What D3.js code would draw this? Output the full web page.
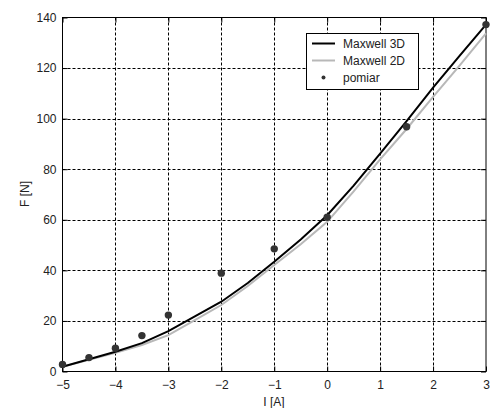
<!DOCTYPE html>
<html><head><meta charset="utf-8">
<script src="https://cdn.jsdelivr.net/npm/d3@7"></script>
<style>body{margin:0;background:#fff}svg{display:block}text{font-family:"Liberation Sans",Arial,sans-serif}</style>
</head><body>
<svg id="c" width="490" height="408"></svg>
<script>
const xTicks = [-5,-4,-3,-2,-1,0,1,2,3];
const yTicks = [0,20,40,60,80,100,120,140];
const lineX = [-5,-4,-3.5,-3,-2.5,-2,-1.5,-1,-0.5,0,0.5,1,1.5,2,2.5,3];
const maxwell3D = [1.9,7.8,11.2,16,21.8,27.6,35,43.4,52.2,61.8,73.5,86.2,99,112.3,124.8,137.2];
const maxwell2D = [1.9,7.4,10.5,14.4,20.3,26.3,33.8,42.1,50.3,59.2,71.2,83.9,95.9,108.6,121,133.7];
const pomiarX = [-5,-4.5,-4,-3.5,-3,-2,-1,0,1.5,3];
const pomiarY = [2.8,5.5,9.2,14.2,22.3,38.9,48.5,61,96.8,137.2];

const svg = d3.select("#c");
const L=62.5,R=486,T=17.5,B=371.5;
const x = d3.scaleLinear().domain([-5,3]).range([L,R]);
const y = d3.scaleLinear().domain([0,140]).range([B,T]);

// grid
const g = svg.append("g");
g.selectAll(".vx").data(xTicks.slice(1,-1)).enter().append("line")
 .attr("x1",d=>Math.round(x(d))+0.5).attr("x2",d=>Math.round(x(d))+0.5)
 .attr("y1",T).attr("y2",B).attr("stroke","#000").attr("stroke-width",1).attr("stroke-dasharray","3,2");
g.selectAll(".hy").data(yTicks.slice(1,-1)).enter().append("line")
 .attr("y1",d=>Math.round(y(d))+0.5).attr("y2",d=>Math.round(y(d))+0.5)
 .attr("x1",L).attr("x2",R).attr("stroke","#000").attr("stroke-width",1).attr("stroke-dasharray","3,2");

// axes via d3
const xa = svg.append("g").attr("transform",`translate(0,${B})`)
 .call(d3.axisBottom(x).tickValues(xTicks).tickSize(-5).tickPadding(9).tickFormat(d3.format("d")));
const ya = svg.append("g").attr("transform",`translate(${L},0)`)
 .call(d3.axisLeft(y).tickValues(yTicks).tickSize(-5).tickPadding(6).tickFormat(d3.format("d")));
[xa,ya].forEach(a=>{a.select(".domain").remove();
 a.selectAll("text").attr("font-size",12).attr("fill","#222").style("font-family","'Liberation Sans',Arial,sans-serif");
 a.selectAll("line").attr("stroke","#000");});
// top/right ticks
svg.append("g").attr("transform",`translate(0,${T})`).call(d3.axisTop(x).tickValues(xTicks).tickSize(-5).tickFormat(""))
 .call(a=>{a.select(".domain").remove();a.selectAll("line").attr("stroke","#000");});
svg.append("g").attr("transform",`translate(${R},0)`).call(d3.axisRight(y).tickValues(yTicks).tickSize(-5).tickFormat(""))
 .call(a=>{a.select(".domain").remove();a.selectAll("line").attr("stroke","#000");});

// frame
svg.append("rect").attr("x",L).attr("y",T).attr("width",R-L).attr("height",B-T)
 .attr("fill","none").attr("stroke","#000").attr("stroke-width",1);

// lines
const line = d3.line().x((d,i)=>x(lineX[i])).y(d=>y(d));
svg.append("path").datum(maxwell2D).attr("d",line).attr("fill","none").attr("stroke","#b8b8b8").attr("stroke-width",2);
svg.append("path").datum(maxwell3D).attr("d",line).attr("fill","none").attr("stroke","#000").attr("stroke-width",2);

// points
svg.selectAll(".p").data(pomiarY).enter().append("circle")
 .attr("cx",(d,i)=>x(pomiarX[i])).attr("cy",d=>y(d)).attr("r",3.7).attr("fill","#333");

// legend
const lg = svg.append("g");
lg.append("rect").attr("x",306.5).attr("y",33.5).attr("width",112).attr("height",56).attr("fill","#fff").attr("stroke","#000");
const items=[{t:"Maxwell 3D",c:"#000",k:"l"},{t:"Maxwell 2D",c:"#b8b8b8",k:"l"},{t:"pomiar",c:"#333",k:"p"}];
const ly=[43.5,60.5,77.5];
items.forEach((it,i)=>{
 if(it.k==="l") lg.append("line").attr("x1",312).attr("x2",335).attr("y1",ly[i]).attr("y2",ly[i]).attr("stroke",it.c).attr("stroke-width",2);
 else lg.append("circle").attr("cx",323.5).attr("cy",ly[i]).attr("r",2).attr("fill",it.c);
 lg.append("text").attr("x",343).attr("y",ly[i]+4.5).attr("font-size",12).attr("fill","#222").text(it.t);
});

// axis titles
svg.append("text").attr("x",274).attr("y",406).attr("text-anchor","middle").attr("font-size",12).attr("fill","#222").text("I [A]");
svg.append("text").attr("transform","translate(29,194) rotate(-90)").attr("text-anchor","middle").attr("font-size",12).attr("fill","#222").text("F [N]");
</script>
</body></html>
